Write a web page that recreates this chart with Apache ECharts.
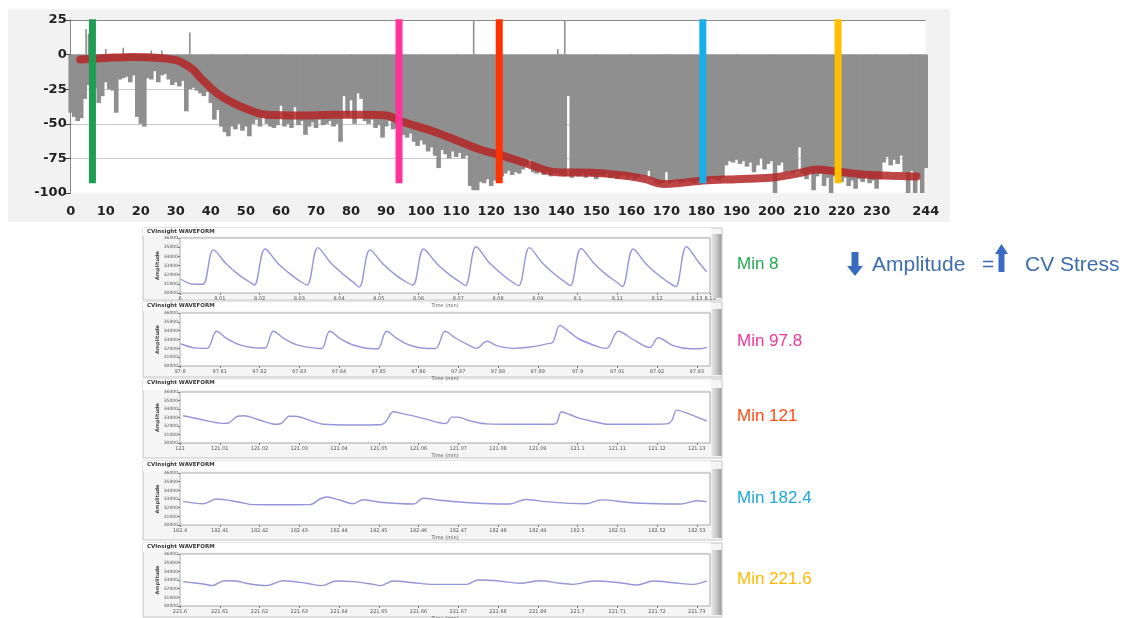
<!DOCTYPE html>
<html><head><meta charset="utf-8">
<script src="https://cdn.jsdelivr.net/npm/echarts@6.0.0/dist/echarts.min.js"></script>
<style>html,body{margin:0;padding:0;background:#fff}#c{width:1126px;height:618px}</style>
</head><body><div id="c"></div>
<script>
// ---------- top chart data (minutes 0..244) ----------
const grayValues = [
-42,-45,-48,-46,-32,-22,-24,-24,-35,-30,
-20,-25,-26,-42,-18,-17,-16,-20,-15,-45,
-50,-52,-17,-18,-12,-20,-15,-14,-18,-22,
-20,-23,-19,-41,-25,-24,-26,-28,-30,-27,
-35,-47,-40,-52,-56,-59,-52,-54,-50,-55,
-52,-59,-50,-47,-52,-45,-50,-52,-53,-51,
-37,-52,-50,-53,-38,-51,-48,-58,-52,-49,
-53,-47,-51,-50,-48,-52,-50,-63,-30,-45,
-33,-50,-28,-32,-48,-50,-47,-53,-51,-60,
-52,-48,-54,-53,-55,-58,-60,-57,-63,-66,
-62,-65,-70,-67,-73,-82,-69,-72,-75,-70,
-74,-71,-75,-73,-95,-98,-98,-92,-93,-90,
-95,-91,-92,-88,-86,-84,-87,-85,-86,-83,
-80,-76,-85,-86,-84,-87,-85,-88,-86,-86,
-87,-88,-30,-89,-87,-88,-86,-89,-87,-88,
-90,-87,-88,-86,-89,-88,-90,-88,-87,-89,
-88,-90,-89,-87,-88,-84,-90,-93,-94,-93,
-85,-93,-92,-91,-93,-92,-91,-92,-93,-91,
-92,-90,-91,-89,-90,-91,-89,-80,-77,-78,
-76,-79,-77,-81,-78,-85,-80,-75,-83,-79,
-77,-100,-80,-78,-85,-84,-86,-84,-67,-86,
-90,-85,-98,-88,-86,-95,-89,-100,-88,-90,
-92,-89,-95,-91,-97,-90,-92,-89,-93,-91,
-97,-90,-78,-74,-80,-76,-79,-73,-85,-100,
-84,-100,-88,-100,-82
];
const spikeX = [4.4, 5.1, 10, 15, 23, 26, 34, 115, 139, 141];
const spikeV = [18.5, 15, 4, 5, 3, 3, 16, 25, 4, 25];
const trendX = [2.7,10,17.8,25.5,30,32,35,37,41.6,46.4,51,55.9,65.4,75,84.5,90.2,94,103.5,111,116.8,122.5,131,138.7,150,159.6,164,169,175,180.5,190,199.6,205,209,213,218.6,228,234,241.4];
const trendY = [-3.6,-2.5,-1.7,-2.4,-4,-6,-11,-16.7,-27.6,-35,-40,-43.5,-44,-43.5,-43.5,-44,-48,-55.5,-62.8,-68.6,-72.5,-79.5,-85,-85.5,-88,-90,-93.5,-92.5,-91,-90,-89,-87,-85,-83,-84.5,-87,-87.5,-88];
const markerX = [6.2, 93.7, 122.3, 180.4, 219];
const markerColors = ['#1f9d55', '#ff3399', '#ff3300', '#1aaee6', '#ffbf00'];
const xTicks = {min: 0, max: 244, step: 10};
const yTicks = {min: -100, max: 25, step: 25};

// ---------- waveform panels ----------
const panelBases = [8, 97.8, 121, 182.4, 221.6];
const minLabels = ['Min 8', 'Min 97.8', 'Min 121', 'Min 182.4', 'Min 221.6'];
const labelColors = ['#22a84e', '#f0359a', '#ff4a12', '#1ca6df', '#ffb900'];
// [offset in 0.01 min, amplitude]
const wave1 = [[0.03,31500],[0.3,30980],[0.57,30950],[0.84,34700],[1.16,33200],[1.49,31950],[1.75,31200],[1.87,30870],
[2.14,34800],[2.46,33250],[2.79,32000],[3.05,31200],[3.20,30870],
[3.47,34950],[3.79,33300],[4.12,32000],[4.38,31100],[4.51,30650],
[4.78,34700],[5.10,33200],[5.43,31950],[5.69,31200],[5.86,30870],
[6.13,34800],[6.45,33250],[6.78,32000],[7.04,31200],[7.18,30800],
[7.45,35050],[7.77,33350],[8.10,32050],[8.36,31200],[8.52,30800],
[8.79,34950],[9.11,33300],[9.44,32000],[9.70,31150],[9.82,30800],
[10.09,34850],[10.41,33250],[10.74,31950],[11.00,31150],[11.13,30700],
[11.40,34800],[11.72,33200],[12.05,31900],[12.31,31100],[12.47,30700],
[12.74,35050],[13.06,33300],[13.25,32300]];
const wave2 = [[0.03,32490],[0.38,32050],[0.68,32000],[0.92,33930],[1.18,33100],[1.51,32400],[2.01,32040],[2.14,32040],
[2.35,33930],[2.62,33100],[2.94,32400],[3.45,32000],[3.57,31980],
[3.77,33930],[4.05,33050],[4.38,32350],[4.86,31950],[4.98,31950],
[5.20,33930],[5.46,33100],[5.79,32350],[6.24,31980],[6.44,32000],
[6.67,33930],[6.92,33200],[7.25,32400],[7.46,32000],[7.72,32800],[7.97,32300],[8.38,32000],[8.81,32150],[9.22,32500],[9.38,32700],
[9.56,34600],[9.81,33800],[10.06,33000],[10.57,32100],[10.73,32000],
[11.03,33930],[11.40,33000],[11.82,32100],[12.03,33200],[12.41,32300],[12.83,31950],[13.08,31950],[13.26,32100]];
const wave3 = [[0.08,33210],[0.5,32800],[1.09,32310],[1.22,32350],[1.45,33150],[1.6,33200],[2.0,32700],[2.43,32200],[2.55,32300],[2.75,33150],[2.9,33150],[3.3,32600],[3.61,32200],[4.3,32120],[5.03,32150],[5.16,32400],[5.37,33680],[5.6,33450],[6.12,32900],[6.62,32310],[6.7,32300],[6.83,33050],[6.98,33050],[7.3,32600],[7.72,32250],[8.5,32200],[9.39,32200],[9.48,32400],[9.60,33680],[9.8,33350],[10.06,32900],[10.57,32350],[10.73,32200],[11.5,32200],[12.24,32250],[12.37,32600],[12.50,33870],[12.7,33600],[13.25,32590]];
const wave4 = [[0.08,32730],[0.59,32460],[0.92,33000],[1.51,32620],[1.84,32350],[2.5,32340],[3.27,32350],[3.52,33000],[3.69,33230],[4.03,32850],[4.36,32460],[4.61,32920],[5.03,32620],[5.87,32420],[6.12,33080],[6.54,32850],[7.2,32600],[7.8,32450],[8.3,32420],[8.7,32950],[9.2,32700],[9.8,32500],[10.2,32450],[10.6,32900],[11.3,32600],[12.0,32450],[12.6,32420],[13.0,32800],[13.25,32700]];
const wave5 = [[0.08,32800],[0.59,32540],[0.80,32350],[1.13,32920],[1.4,32880],[1.76,32540],[2.18,32350],[2.60,32920],[3.19,32620],[3.56,32350],[3.94,32890],[4.36,32810],[4.86,32500],[5.03,32350],[5.37,32890],[5.87,32690],[6.37,32500],[6.71,32500],[7.21,32500],[7.50,33000],[7.97,32920],[8.55,32620],[9.06,32920],[9.56,32620],[9.89,32500],[10.40,32890],[11.07,32690],[11.49,32420],[11.91,32890],[12.41,32690],[12.91,32500],[13.25,32890]];
const waves = [wave1, wave2, wave3, wave4, wave5];
const ampTicks = {min: 30000, max: 36000, step: 1000};
const waveSpan = 13.3333;

// ---------- layout ----------
const panelLayout = [
  {top: 228, bottom: 300, plotTop: 238, plotH: 55, labelY: 264},
  {top: 302, bottom: 377, plotTop: 313, plotH: 53, labelY: 341},
  {top: 379, bottom: 458, plotTop: 392, plotH: 51, labelY: 416},
  {top: 461, bottom: 540, plotTop: 473, plotH: 52, labelY: 498},
  {top: 543, bottom: 617, plotTop: 554, plotH: 52, labelY: 579}
];

const chart = echarts.init(document.getElementById('c'), null, {renderer: 'canvas'});
const grids = [], xAxes = [], yAxes = [], series = [], graphics = [];

// top chart
grids.push({left: 70.7, right: 200.3, top: 20, height: 173, show: true, backgroundColor: '#ffffff', borderWidth: 0, outerBoundsMode: 'none'});
xAxes.push({gridIndex: 0, type: 'value', min: xTicks.min, max: xTicks.max, interval: xTicks.step, offset: 4,
  axisLine: {show: false}, axisTick: {show: true, length: 5, lineStyle: {color: '#333', width: 1.2}},
  splitLine: {show: false},
  axisLabel: {interval: 0, margin: 8, fontFamily: 'DejaVu Sans', fontWeight: 'bold', fontSize: 13, color: '#222',
    formatter: v => (v === 240 ? '' : String(v))}});
yAxes.push({gridIndex: 0, type: 'value', min: yTicks.min, max: yTicks.max, interval: yTicks.step,
  axisLine: {show: true, lineStyle: {color: '#888', width: 1}},
  axisTick: {show: true, length: 6, lineStyle: {color: '#444'}},
  axisLabel: {margin: 4, fontFamily: 'DejaVu Sans', fontWeight: 'bold', fontSize: 13, color: '#222'},
  splitLine: {show: true, lineStyle: {color: ['rgba(0,0,0,0)', '#c9c9c9', '#c9c9c9', '#c9c9c9', '#c9c9c9', '#8a8a8a'], width: 1}}});

series.push({type: 'bar', xAxisIndex: 0, yAxisIndex: 0, barWidth: 4.6, clip: true,
  data: grayValues.map((v, i) => [i, v]), itemStyle: {color: '#8f8f8f'}, z: 2, silent: true});
const spikeData = [];
spikeX.forEach((x, i) => { spikeData.push([x, 0], [x, spikeV[i]], '-'); });
series.push({type: 'line', xAxisIndex: 0, yAxisIndex: 0, data: spikeData, connectNulls: false, symbol: 'none',
  lineStyle: {color: '#8f8f8f', width: 1.6}, z: 2});
series.push({type: 'line', xAxisIndex: 0, yAxisIndex: 0, smooth: 0.4, symbol: 'none',
  data: trendX.map((x, i) => [x, trendY[i]]),
  lineStyle: {color: 'rgba(180,38,38,0.85)', width: 8, cap: 'round'}, z: 3});
markerX.forEach((x, i) => {
  series.push({type: 'line', xAxisIndex: 0, yAxisIndex: 0, symbol: 'none', clip: false,
    data: [[x, 25.5], [x, -93]], lineStyle: {color: markerColors[i], width: 7, cap: 'butt'}, z: 4});
});

graphics.push({type: 'rect', z: -10, shape: {x: 8, y: 9, width: 942, height: 213}, style: {fill: '#f2f2f2'}});

// waveform panels
panelLayout.forEach((p, i) => {
  const gi = i + 1;
  const base = panelBases[i];
  grids.push({left: 180, right: 416, top: p.plotTop, height: p.plotH, show: true, backgroundColor: '#ffffff',
    borderColor: '#a8a8a8', borderWidth: 1, outerBoundsMode: 'none'});
  xAxes.push({gridIndex: gi, type: 'value', min: 0, max: waveSpan, interval: 1,
    axisLine: {show: false}, axisTick: {show: true, length: 2, lineStyle: {color: '#777'}},
    splitLine: {show: false},
    axisLabel: {interval: 0, margin: 3, fontSize: 5, color: '#555', fontFamily: 'DejaVu Sans',
      formatter: v => String(parseFloat((base + v / 100).toFixed(2)))},
    name: 'Time (min)', nameLocation: 'middle', nameGap: 10,
    nameTextStyle: {fontSize: 5, color: '#555', fontFamily: 'DejaVu Sans'}});
  yAxes.push({gridIndex: gi, type: 'value', min: ampTicks.min, max: ampTicks.max, interval: ampTicks.step,
    axisLine: {show: false}, axisTick: {show: true, length: 2, lineStyle: {color: '#777'}},
    splitLine: {show: false},
    axisLabel: {margin: 2, fontSize: 4.5, color: '#555', fontFamily: 'DejaVu Sans', formatter: v => String(v)},
    name: 'Amplitude', nameLocation: 'middle', nameGap: 20, nameRotate: 90,
    nameTextStyle: {fontSize: 5, color: '#444', fontWeight: 'bold', fontFamily: 'DejaVu Sans'}});
  series.push({type: 'line', xAxisIndex: gi, yAxisIndex: gi, smooth: 0.35, symbol: 'none',
    data: waves[i], lineStyle: {color: '#9595da', width: 1.4}, z: 3});

  graphics.push({type: 'rect', z: -10, shape: {x: 143, y: p.top, width: 579, height: p.bottom - p.top},
    style: {fill: '#f5f5f5', stroke: '#c4c4c4', lineWidth: 1}});
  graphics.push({type: 'rect', z: -9, shape: {x: 143, y: p.top, width: 568, height: p.plotTop - p.top - 2},
    style: {fill: '#ffffff'}});
  graphics.push({type: 'text', z: 10, x: 147, y: p.top + 1,
    style: {text: 'CVInsight WAVEFORM', fontSize: 5.5, fontWeight: 'bold', fill: '#333', fontFamily: 'DejaVu Sans'}});
  graphics.push({type: 'rect', z: 10, shape: {x: 711.5, y: p.plotTop - 4, width: 10, height: p.bottom - p.plotTop + 2},
    style: {fill: new echarts.graphic.LinearGradient(0, 0, 1, 0, [{offset: 0, color: '#e6e6e6'}, {offset: 0.5, color: '#c8c8c8'}, {offset: 1, color: '#9c9c9c'}])}});
  graphics.push({type: 'text', z: 10, x: 737, y: p.labelY,
    style: {text: minLabels[i], fontSize: 17, fill: labelColors[i], fontFamily: 'Liberation Sans', verticalAlign: 'middle'}});
});

// right side note: down arrow, "Amplitude", "=", up arrow, "CV Stress"
const noteColor = '#3d6db0';
graphics.push({type: 'polygon', z: 10, shape: {points: [[851.5, 252], [858.5, 252], [858.5, 266], [863, 266], [855, 276], [847, 266], [851.5, 266]]}, style: {fill: '#3a6bc0'}});
graphics.push({type: 'text', z: 10, x: 872, y: 265, style: {text: 'Amplitude', fontSize: 21, fill: noteColor, fontFamily: 'Liberation Sans', verticalAlign: 'middle'}});
graphics.push({type: 'text', z: 10, x: 982, y: 265, style: {text: '=', fontSize: 21, fill: noteColor, fontFamily: 'Liberation Sans', verticalAlign: 'middle'}});
graphics.push({type: 'polygon', z: 10, shape: {points: [[1001.5, 244], [1008, 254], [1004.5, 254], [1004.5, 272], [998.5, 272], [998.5, 254], [995, 254]]}, style: {fill: '#3a6bc0'}});
graphics.push({type: 'text', z: 10, x: 1025, y: 265, style: {text: 'CV Stress', fontSize: 21, fill: noteColor, fontFamily: 'Liberation Sans', verticalAlign: 'middle'}});

chart.setOption({
  animation: false,
  backgroundColor: '#ffffff',
  grid: grids, xAxis: xAxes, yAxis: yAxes, series: series, graphic: graphics
});
</script>
</body></html>
